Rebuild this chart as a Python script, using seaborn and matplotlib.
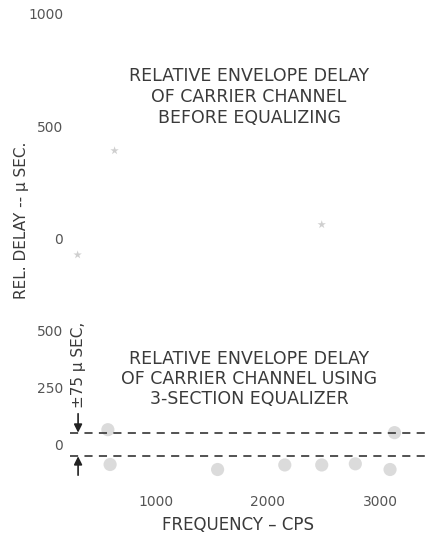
import matplotlib
matplotlib.use("Agg")
import matplotlib.pyplot as plt
import seaborn as sns
import pandas as pd

# faint remnants of the delay curves visible on the scan (cps, usec)
before_freq = [300, 630, 2480]
before_delay = [-75, 390, 60]
after_freq = [570, 590, 1550, 2150, 2480, 2780, 3090, 3130]
after_delay = [65, -88, -110, -90, -90, -85, -110, 52]

upper_yticks = [0, 500, 1000]
lower_yticks = [0, 250, 500]
freq_ticks = [1000, 2000, 3000]
band_limit = 52  # dashed tolerance lines as drawn

upper_title = "RELATIVE ENVELOPE DELAY\nOF CARRIER CHANNEL\nBEFORE EQUALIZING"
lower_title = "RELATIVE ENVELOPE DELAY\nOF CARRIER CHANNEL USING\n3-SECTION EQUALIZER"

sns.set_theme(style="white")
plt.rcParams['font.family'] = ['DejaVu Sans']
ink = "#3a3a3a"
tick_col = "#555555"
speck = "#c4c4c4"

fig = plt.figure(figsize=(4.28, 5.35), dpi=100)
ax1 = fig.add_axes([0.1636, 0.4766, 0.8364, 0.514])
ax2 = fig.add_axes([0.1636, 0.0935, 0.8364, 0.3458])

xlim = (232, 3429)

# upper panel
before_df = pd.DataFrame({"freq": before_freq, "delay": before_delay})
sns.scatterplot(data=before_df, x="freq", y="delay", ax=ax1, color=speck,
                marker="*", s=40, edgecolor="none", alpha=0.8)
ax1.set_xlim(*xlim)
ax1.set_ylim(-187.5, 1040)
ax1.set_yticks(upper_yticks)
ax1.set_xticks([])
ax1.set_xlabel("")
ax1.set_ylabel("")
ax1.tick_params(axis="y", length=0, pad=5, labelsize=10, labelcolor=tick_col)
ax1.text(0.50, 0.665, upper_title, transform=ax1.transAxes, ha="center",
         va="center", fontsize=12.5, color=ink, linespacing=1.2)

# lower panel
after_df = pd.DataFrame({"freq": after_freq, "delay": after_delay})
sns.scatterplot(data=after_df, x="freq", y="delay", ax=ax2, color=speck,
                marker="o", s=90, edgecolor="none", alpha=0.6)
ax2.axhline(band_limit, color="#444444", lw=1.3, ls=(0, (4.5, 3.5)))
ax2.axhline(-band_limit, color="#444444", lw=1.3, ls=(0, (4.5, 3.5)))
ax2.set_xlim(*xlim)
ax2.set_ylim(-178, 635)
ax2.set_yticks(lower_yticks)
ax2.set_xticks(freq_ticks)
ax2.set_xlabel("")
ax2.set_ylabel("")
ax2.tick_params(axis="both", length=0, labelsize=10, labelcolor=tick_col)
ax2.tick_params(axis="y", pad=5)
ax2.tick_params(axis="x", pad=7)
ax2.text(0.50, 0.573, lower_title, transform=ax2.transAxes, ha="center",
         va="center", fontsize=12.5, color=ink, linespacing=1.15)

# tolerance arrows and label
ax2.annotate("", xy=(304, band_limit), xytext=(304, 135),
             arrowprops=dict(arrowstyle="-|>", color="#222222", lw=1.2,
                             mutation_scale=12, shrinkA=0, shrinkB=0))
ax2.annotate("", xy=(304, -band_limit), xytext=(304, -135),
             arrowprops=dict(arrowstyle="-|>", color="#222222", lw=1.2,
                             mutation_scale=12, shrinkA=0, shrinkB=0))
ax2.text(304, 349, "\u00b175 \u03bc SEC,", rotation=90, ha="center",
         va="center", fontsize=11, color=ink)

sns.despine(ax=ax1, left=True, bottom=True)
sns.despine(ax=ax2, left=True, bottom=True)

fig.text(22 / 428, 1 - 220 / 535, "REL. DELAY -- \u03bc SEC.", rotation=90,
         ha="center", va="center", fontsize=11, color=ink)
fig.text(238 / 428, 1 - 525 / 535, "FREQUENCY \u2013 CPS", ha="center",
         va="center", fontsize=12, color=ink)

fig.savefig("out.png", dpi=100)
plt.close(fig)
